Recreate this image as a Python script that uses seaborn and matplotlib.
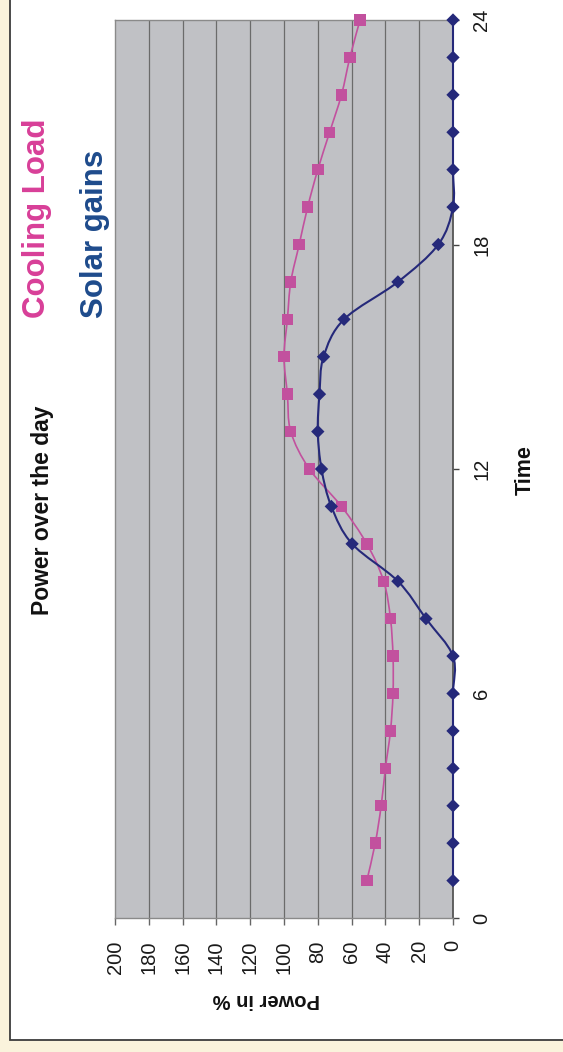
import numpy as np
import pandas as pd
import matplotlib
matplotlib.use("Agg")
import matplotlib.pyplot as plt
from matplotlib.path import Path
from matplotlib.patches import PathPatch, Rectangle
import seaborn as sns

# Hourly values (hour of day, percent of power)
hours = list(range(1, 25))
cooling_load = [51, 46, 42.5, 40, 37, 35.5, 35.5, 37, 41, 51, 66, 85,
                96, 98, 100, 98, 96, 91, 86, 80, 73, 66, 61, 55]
solar_gains = [0, 0, 0, 0, 0, 0, 0, 16, 32.6, 59.7, 72, 77.8,
               80, 79, 76.6, 64.5, 32.6, 8.7, 0, 0, 0, 0, 0, 0]
time_ticks = [0, 6, 12, 18, 24]
power_ticks = list(range(0, 201, 20))

PINK = "#c2519e"
NAVY = "#25297a"
PINK_TXT = "#d83f98"
NAVY_TXT = "#1e4b8c"

sns.set_theme(style="white")
plt.rcParams["font.family"] = ["Liberation Sans", "DejaVu Sans"]

W, H = 563, 1052
fig = plt.figure(figsize=(W / 100, H / 100), dpi=100)
fig.patch.set_facecolor("#faf3dc")

# white chart panel with a dark frame on the left and bottom
fig.patches.append(Rectangle((9.5 / W, (H - 1039.5) / H), 1.2, 1.2,
                             transform=fig.transFigure, facecolor="white",
                             edgecolor="#3c3c3c", linewidth=1.3, zorder=-10))

# power runs right-to-left along x, time runs bottom-to-top along y
ax = fig.add_axes([115 / W, 1 - 918 / H, (453 - 115) / W, (918 - 20) / H])
ax.set_zorder(1)
ax.set_facecolor("#c0c1c5")

df = pd.DataFrame({"hour": hours, "cooling": cooling_load, "solar": solar_gains})


def smooth_path(xs, ys):
    pts = np.column_stack([xs, ys]).astype(float)
    n = len(pts)
    verts = [pts[0]]
    codes = [Path.MOVETO]
    for i in range(n - 1):
        p0 = pts[max(i - 1, 0)]
        p1 = pts[i]
        p2 = pts[i + 1]
        p3 = pts[min(i + 2, n - 1)]
        verts += [p1 + (p2 - p0) / 6, p2 - (p3 - p1) / 6, p2]
        codes += [Path.CURVE4] * 3
    return Path(verts, codes)


ax.add_patch(PathPatch(smooth_path(df["cooling"], df["hour"]), fill=False,
                       edgecolor=PINK, linewidth=1.2, zorder=3, clip_on=False))
ax.add_patch(PathPatch(smooth_path(df["solar"], df["hour"]), fill=False,
                       edgecolor=NAVY, linewidth=1.5, zorder=3.2, clip_on=False))

sns.scatterplot(data=df, x="cooling", y="hour", marker="s", s=68,
                color=PINK, edgecolor="none", linewidth=0, ax=ax,
                zorder=4, clip_on=False)
sns.scatterplot(data=df, x="solar", y="hour", marker="D", s=46,
                color=NAVY, edgecolor="none", linewidth=0, ax=ax,
                zorder=4.2, clip_on=False)

ax.set_xlim(200, 0)
ax.set_ylim(0, 24)
ax.set_xlabel("")
ax.set_ylabel("")

# vertical grid at every 20 %
for v in power_ticks[1:-1]:
    ax.axvline(v, color="#6b6b6b", linewidth=0.9, zorder=1)

for side in ["top", "left", "bottom"]:
    ax.spines[side].set_color("#8a8a8a")
    ax.spines[side].set_linewidth(1.0)
ax.spines["right"].set_color("#555555")
ax.spines["right"].set_linewidth(1.3)

ax.yaxis.tick_right()
ax.set_yticks(time_ticks)
ax.set_yticklabels([str(t) for t in time_ticks], rotation=90, va="center",
                   fontsize=14.5, color="#1a1a1a")
ax.tick_params(axis="y", which="major", right=True, left=False, length=4,
               width=1.0, color="#444444", pad=10, direction="out")

ax.set_xticks(power_ticks)
ax.set_xticklabels([str(p) for p in power_ticks], rotation=90,
                   fontsize=14.5, color="#1a1a1a")
ax.tick_params(axis="x", which="major", bottom=True, length=5, width=1.0,
               color="#666666", pad=11, direction="out")

# titles and legend text
fig.text(43 / W, 1 - 510 / H, "Power over the day", rotation=90,
         ha="center", va="center", fontsize=16.5, fontweight="bold",
         color="#111111")
fig.text(525 / W, 1 - 470 / H, "Time", rotation=90, ha="center",
         va="center", fontsize=15.5, fontweight="bold", color="#111111")
fig.text(266 / W, 1 - 1000 / H, "Power in %", rotation=180, ha="center",
         va="center", fontsize=14.5, fontweight="bold", color="#111111")
fig.text(37.5 / W, 1 - 218 / H, "Cooling Load", rotation=90, ha="center",
         va="center", fontsize=22.5, fontweight="bold", color=PINK_TXT)
fig.text(95 / W, 1 - 234 / H, "Solar gains", rotation=90, ha="center",
         va="center", fontsize=22.5, fontweight="bold", color=NAVY_TXT)

fig.savefig("out.png", dpi=100, facecolor=fig.get_facecolor())
